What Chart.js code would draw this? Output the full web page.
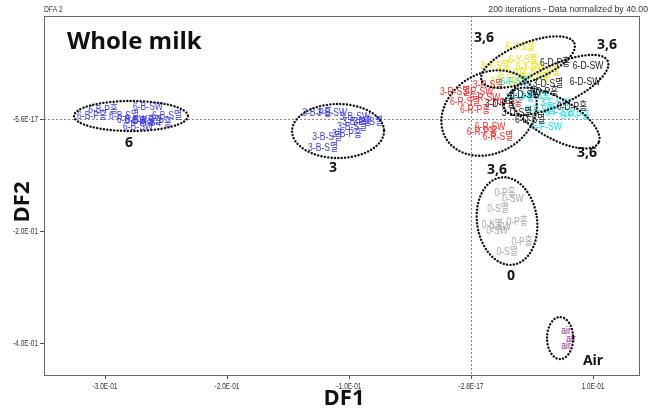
<!DOCTYPE html>
<html>
<head>
<meta charset="utf-8">
<script src="https://cdn.jsdelivr.net/npm/chart.js@4.4.1/dist/chart.umd.min.js"></script>
<style>
html,body{margin:0;padding:0;background:#fff;}
#wrap{width:653px;height:412px;position:relative;}
</style>
</head>
<body>
<div id="wrap"><canvas id="c" width="653" height="412"></canvas></div>
<script>
// ---- Data ----
const xTickValues = [-0.3, -0.2, -0.1, 0, 0.1];
const xTickLabels = ["-3.0E-01", "-2.0E-01", "-1.0E-01", "-2.8E-17", "1.0E-01"];
const yTickValues = [0, -0.2, -0.4];
const yTickLabels = ["-5.6E-17", "-2.0E-01", "-4.0E-01"];

const b6Labels = ["6-B-P홍","6-B-SW","6-B-P홍","6-B-S멸","6-B-S멸","6-B-P홍","6-B-SW","6-B-P홍","6-B-SW","6-B-S멸"];
const b6X = [-0.3016,-0.2648,-0.3107,-0.2844,-0.2492,-0.2713,-0.2779,-0.2574,-0.2730,-0.2656];
const b6Y = [0.0161,0.0214,0.0054,0.0054,0.0054,-0.0036,-0.0018,-0.0071,-0.0143,-0.0036];

const b3Labels = ["3-B-P홍","3-B-SW","3-B-SW","3-B-S멸","3-B-S멸","3-B-S멸","3-B-P홍","3-B-S멸","3-B-P홍"];
const b3X = [-0.1262,-0.1139,-0.0951,-0.0844,-0.0975,-0.1180,-0.1016,-0.1213,-0.0934];
const b3Y = [0.0107,0.0107,0.0036,-0.0054,-0.0143,-0.0321,-0.0268,-0.0518,-0.0054];

const c0Labels = ["0-P홍","0-SW","0-S멸","0-P홍","0-S멸","0-SW","0-SW","0-P홍","0-S멸"];
const c0X = [0.0279,0.0344,0.0221,0.0377,0.0172,0.0238,0.0213,0.0418,0.0295];
const c0Y = [-0.1321,-0.1429,-0.1607,-0.1839,-0.1893,-0.1929,-0.2000,-0.2196,-0.2375];

const airLabels = ["air","air","air"];
const airX = [0.0779,0.0820,0.0779];
const airY = [-0.3786,-0.3929,-0.4054];

const yLabels = ["6-Y-S멸","6-Y-S멸","3-Y-S멸","6-Y-SW","6-Y-S멸","3-Y-P홍","6-Y-P홍","3-Y-SW"];
const yX = [0.0402,0.0426,0.0197,0.0484,0.0607,0.0336,0.0525,0.0279];
const yY = [0.1286,0.1054,0.0946,0.0929,0.0839,0.0804,0.0732,0.0661];

const rLabels = ["3-R-S멸","3-R-S멸","3-R-SW","6-R-S멸","6-R-SW","6-R-P홍","3-R-P홍","6-R-SW","6-R-P홍","6-R-S멸"];
const rX = [-0.0131,0.0139,0.0057,-0.0049,0.0115,0.0033,0.0295,0.0156,0.0090,0.0221];
const rY = [0.0482,0.0607,0.0482,0.0304,0.0375,0.0161,0.0286,-0.0143,-0.0232,-0.0321];

const fLabels = ["6-F-SW","6-F-P홍","6-F-S멸","3-F-SW","3-F-P홍","3-F-S멸","6-F-S멸","6-F-SW"];
const fX = [0.0623,0.0852,0.0566,0.0689,0.0402,0.0525,0.0361,0.0730];
const fY = [-0.0143,0.0054,0.0161,0.0286,0.0375,0.0411,0.0661,0.0107];

const dLabels = ["6-D-P홍","6-D-SW","6-D-SW","6-D-P홍","3-D-S멸","3-D-P홍","3-D-SW","3-D-S멸","6-D-S멸","3-D-P홍"];
const dX = [0.0689,0.0959,0.0934,0.0828,0.0631,0.0590,0.0443,0.0377,0.0484,0.0238];
const dY = [0.1000,0.0946,0.0661,0.0214,0.0625,0.0482,0.0429,0.0107,-0.0018,0.0268];

// ellipses: centre (data), semi-axes (data units), rotation (deg)
const ellCX = [-0.2787,-0.1090,0.0295,0.0730,0.0467,0.0697,0.0148,0.0689];
const ellCY = [0.0054,-0.0214,-0.1821,-0.3911,0.1018,0.0607,0.0107,0.0018];
const ellRX = [0.0467,0.0377,0.0246,0.0107,0.0410,0.0467,0.0410,0.0410];
const ellRY = [0.0268,0.0482,0.0786,0.0375,0.0339,0.0357,0.0714,0.0357];
const ellRot = [0,0,-8,0,-22,-25,-30,30];

// group annotation labels
const grpText = ["6","3","3,6","3,6","3,6","3,6","0","Air"];
const grpX = [-0.2803,-0.1131,0.0107,0.1115,0.0951,0.0213,0.0328,0.1000];
const grpY = [-0.0429,-0.0875,0.1446,0.1321,-0.0607,-0.0911,-0.2804,-0.4321];

// ---- Build ----
function pts(xs, ys){ return xs.map((x,i)=>({x:x, y:ys[i]})); }
const groups = [
  {labels:b6Labels, x:b6X, y:b6Y, color:"#3a3af0"},
  {labels:b3Labels, x:b3X, y:b3Y, color:"#3a3af0"},
  {labels:c0Labels, x:c0X, y:c0Y, color:"#a8a8a8"},
  {labels:airLabels, x:airX, y:airY, color:"#9a1a9a"},
  {labels:yLabels, x:yX, y:yY, color:"#e6e600"},
  {labels:rLabels, x:rX, y:rY, color:"#ff2a2a"},
  {labels:fLabels, x:fX, y:fY, color:"#10e0ee"},
  {labels:dLabels, x:dX, y:dY, color:"#222222"}
];
const datasets = groups.map(g=>({
  data: pts(g.x, g.y), pointLabels: g.labels, labelColor: g.color,
  pointRadius: 0, pointHoverRadius: 0, showLine: false, backgroundColor: g.color, borderColor: g.color
}));

const LABEL_FONT = "11px 'Liberation Sans','Noto Sans CJK KR',sans-serif";
const SMALL_FONT = "9px 'Liberation Sans',Arial,sans-serif";

function narrowText(ctx, text, x, y, sx){
  ctx.save(); ctx.translate(x, y); ctx.scale(sx, 1); ctx.fillText(text, 0, 0); ctx.restore();
}

const decor = {
  id: 'decor',
  beforeDatasetsDraw(chart){
    const {ctx, chartArea:a, scales:{x, y}} = chart;
    ctx.save();
    ctx.strokeStyle = '#8a8a8a'; ctx.lineWidth = 1; ctx.setLineDash([2,2]);
    const x0 = Math.round(x.getPixelForValue(0))+0.5;
    const y0 = Math.round(y.getPixelForValue(0))+0.5;
    ctx.beginPath(); ctx.moveTo(x0, a.top); ctx.lineTo(x0, a.bottom); ctx.stroke();
    ctx.beginPath(); ctx.moveTo(a.left, y0); ctx.lineTo(a.right, y0); ctx.stroke();
    ctx.restore();
  },
  afterDatasetsDraw(chart){
    const {ctx, chartArea:a, scales:{x, y}} = chart;
    ctx.save();
    // point text labels
    ctx.font = LABEL_FONT; ctx.textAlign = 'center'; ctx.textBaseline = 'middle';
    chart.data.datasets.forEach((ds, i)=>{
      const meta = chart.getDatasetMeta(i);
      ctx.fillStyle = ds.labelColor;
      meta.data.forEach((el, j)=>{ narrowText(ctx, ds.pointLabels[j], el.x, el.y, 0.78); });
    });
    // ellipses
    ctx.strokeStyle = '#111'; ctx.lineWidth = 2.4; ctx.lineCap = 'round'; ctx.setLineDash([0.1, 3.3]);
    const pxPerX = Math.abs(x.getPixelForValue(1) - x.getPixelForValue(0));
    const pxPerY = Math.abs(y.getPixelForValue(1) - y.getPixelForValue(0));
    ellCX.forEach((cx, i)=>{
      ctx.beginPath();
      ctx.ellipse(x.getPixelForValue(cx), y.getPixelForValue(ellCY[i]), ellRX[i]*pxPerX, ellRY[i]*pxPerY, ellRot[i]*Math.PI/180, 0, Math.PI*2);
      ctx.stroke();
    });
    ctx.setLineDash([]);
    // group labels
    ctx.fillStyle = '#111'; ctx.font = "bold 14px 'Open Sans','DejaVu Sans',sans-serif";
    grpText.forEach((t, i)=>{ ctx.fillText(t, x.getPixelForValue(grpX[i]), y.getPixelForValue(grpY[i])); });
    // frame
    ctx.strokeStyle = '#666'; ctx.lineWidth = 1;
    ctx.strokeRect(a.left+0.5, a.top+0.5, a.right-a.left-1, a.bottom-a.top);
    // tick labels (condensed)
    ctx.font = SMALL_FONT; ctx.fillStyle = '#333';
    ctx.textAlign = 'center';
    xTickValues.forEach((v, i)=>{ narrowText(ctx, xTickLabels[i], x.getPixelForValue(v), a.bottom + 12, 0.72); });
    ctx.textAlign = 'right';
    yTickValues.forEach((v, i)=>{ narrowText(ctx, yTickLabels[i], a.left - 6, y.getPixelForValue(v), 0.72); });
    // title inside
    ctx.fillStyle = '#111';
    ctx.textAlign = 'left'; ctx.font = "bold 24px 'Open Sans','DejaVu Sans',sans-serif";
    ctx.fillText('Whole milk', 67, 42);
    // header texts
    ctx.font = SMALL_FONT; ctx.fillStyle = '#333';
    narrowText(ctx, 'DFA 2', 44, 10, 0.75);
    ctx.textAlign = 'right';
    narrowText(ctx, '200 iterations - Data normalized by 40.00', 648, 10, 0.97);
    // axis titles
    ctx.textAlign = 'center'; ctx.fillStyle = '#111';
    ctx.font = "bold 22px 'Open Sans','DejaVu Sans',sans-serif";
    ctx.fillText('DF1', 344, 399);
    ctx.save(); ctx.translate(23, 202); ctx.rotate(-Math.PI/2); ctx.fillText('DF2', 0, 0); ctx.restore();
    ctx.restore();
  }
};

new Chart(document.getElementById('c'), {
  type: 'scatter',
  data: { datasets },
  options: {
    responsive: false, animation: false, events: [],
    layout: { padding: { top: 16, right: 13, left: 0, bottom: 0 } },
    plugins: { legend: {display:false}, tooltip: {enabled:false}, title:{display:false} },
    scales: {
      x: {
        type: 'linear', min: -0.35, max: 0.1385,
        afterBuildTicks: s => { s.ticks = xTickValues.map(v=>({value:v})); },
        afterFit: s => { s.height = 37; },
        grid: { display: true, drawOnChartArea: false, drawTicks: true, tickLength: 4, color: '#555' },
        border: { display: false },
        ticks: { display: false, autoSkip: false }
      },
      y: {
        type: 'linear', min: -0.457, max: 0.184,
        afterBuildTicks: s => { s.ticks = yTickValues.map(v=>({value:v})); },
        afterFit: s => { s.width = 44; },
        grid: { display: true, drawOnChartArea: false, drawTicks: true, tickLength: 4, color: '#555' },
        border: { display: false },
        ticks: { display: false, autoSkip: false }
      }
    }
  },
  plugins: [decor]
});
</script>
</body>
</html>
